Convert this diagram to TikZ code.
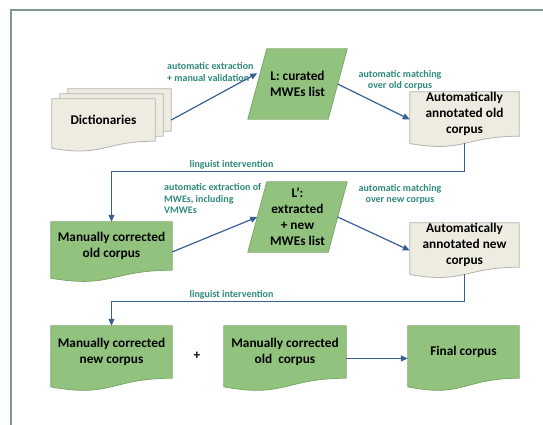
\documentclass[tikz,border=0pt]{standalone}
\usepackage{fontspec}
\setmainfont{Carlito}
\usetikzlibrary{arrows.meta,positioning,backgrounds,calc}
\definecolor{greenFill}{HTML}{92C37E}
\definecolor{greenLine}{HTML}{7BA868}
\definecolor{grayFill}{HTML}{EEECE1}
\definecolor{grayLine}{HTML}{B4B4AE}
\definecolor{arrowBlue}{HTML}{3A5E96}
\definecolor{labelTeal}{HTML}{2F8A7C}
\definecolor{frameGray}{HTML}{7F978F}

% document outline with wavy bottom, drawn round a node
\newcommand{\docshape}[2]{%
  \path[#2] (#1.north west) -- (#1.north east) -- (#1.south east)
    .. controls (#1.south) and ($(#1.north)!1.38!(#1.south)$)
    .. ($(#1.north west)!1.165!(#1.south west)$) -- cycle;
  \coordinate (#1-w) at ($(#1.north west)!0.623!(#1.south west)$);
  \coordinate (#1-e) at ($(#1.north east)!0.623!(#1.south east)$);
  \coordinate (#1-s) at ($(#1.north)!1.163!(#1.south)$);
}
% slanted data box round a node
\newcommand{\slantshape}[2]{%
  \path[#2] ([xshift=9.5pt]#1.north west) -- ([xshift=9.5pt]#1.north east)
    -- ([xshift=-9.5pt]#1.south east) -- ([xshift=-9.5pt]#1.south west) -- cycle;
}

\begin{document}
\begin{tikzpicture}[
  x=1pt, y=-1pt,
  box/.style={
    inner sep=0pt, align=center, text=black,
    font=\fontsize{13.3}{16}\selectfont\bfseries
  },
  lbl/.style={inner sep=0pt, text=labelTeal, font=\fontsize{10}{11.5}\selectfont\bfseries},
  greendoc/.style={fill=greenFill, draw=greenLine, line width=0.8pt},
  graydoc/.style={fill=grayFill, draw=grayLine, line width=0.8pt},
  flow/.style={-{Triangle[length=7pt,width=6pt]}, line width=1.2pt, draw=arrowBlue}
]
\useasboundingbox (0,0) rectangle (543,425);
\clip (0,0) rectangle (543,425);
\draw[frameGray, line width=1.6pt] (11,10) rectangle (560,440);

%  Row 1 
\node[box, minimum width=103pt, minimum height=42pt] (dict) at (103.5,120) {Dictionaries};
\node[minimum width=103pt, minimum height=42pt, inner sep=0pt] (dictm) at ([shift={(8,-5)}]dict.center) {};
\node[minimum width=103pt, minimum height=42pt, inner sep=0pt] (dictb) at ([shift={(16,-10)}]dict.center) {};
\node[box, minimum width=80pt, minimum height=70pt] (lcur) at (297.5,84) {L: curated\\MWEs list};
\node[box, minimum width=109pt, minimum height=44pt] (aao) at (464.5,114) {Automatically\\annotated old\\corpus};

%  Row 2 
\node[box, minimum width=121pt, minimum height=48pt] (mco) at (111.5,246) {Manually corrected\\old corpus};
\node[box, minimum width=80pt, minimum height=70pt] (lnew) at (297.5,217) {L’:\\extracted\\+ new\\MWEs list};
\node[box, minimum width=109pt, minimum height=44pt] (aanc) at (464.5,245) {Automatically\\annotated new\\corpus};

%  Row 3 
\node[box, minimum width=121pt, minimum height=52pt] (mcn) at (111.5,352) {Manually corrected\\new corpus};
\node[box] (plus) at (197,356) {+};
\node[box, minimum width=122pt, minimum height=52pt] (mco2) at (285,352) {Manually corrected\\old\ \ corpus};
\node[box, minimum width=111pt, minimum height=52pt] (fin) at (463.5,352) {Final corpus};

%  Shapes behind the texts 
\begin{scope}[on background layer]
  \fill[white] (0,0) rectangle (543,425);
  \docshape{dictb}{graydoc}
  \docshape{dictm}{graydoc}
  \docshape{dict}{graydoc}
  \slantshape{lcur}{greendoc}
  \docshape{aao}{graydoc}
  \docshape{mco}{greendoc}
  \slantshape{lnew}{greendoc}
  \docshape{aanc}{graydoc}
  \docshape{mcn}{greendoc}
  \docshape{mco2}{greendoc}
  \docshape{fin}{greendoc}
\end{scope}

%  Edge labels 
\node[lbl, anchor=west, align=left] (ext1) at (167,72) {automatic extraction\\+ manual validation};
\node[lbl, align=center] (match1) at (400,80.5) {automatic matching\\over old corpus};
\node[lbl, anchor=west, align=left] (ext2) at (164,199) {automatic extraction of\\MWEs, including\\VMWEs};
\node[lbl, align=center] (match2) at (400,194.5) {automatic matching\\over new corpus};

%  Flow arrows 
\draw[flow] (dict.east -| dictb.east) -- (lcur.165);
\draw[flow] (lcur.east) -- (aao-w);
\draw[flow] (aao-s) -- ++(0,28) -| node[lbl, pos=0.33, above=2pt] {linguist intervention} (mco.north);
\draw[flow] (mco-e) -- (lnew.west);
\draw[flow] (lnew.east) -- (aanc-w);
\draw[flow] (aanc-s) -- ++(0,27) -| node[lbl, pos=0.33, above=2pt] {linguist intervention} (mcn.north);
\draw[flow] (mco2-e) -- (fin-w);

\end{tikzpicture}
\end{document}
